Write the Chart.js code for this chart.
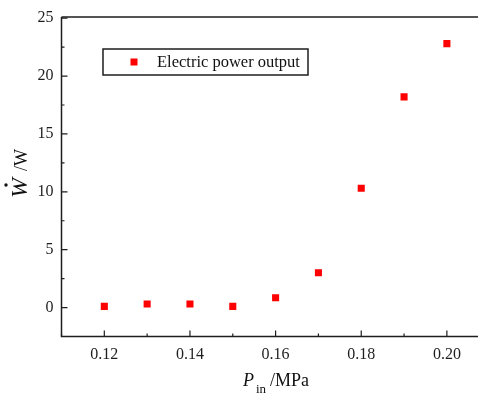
<!doctype html>
<html lang="en">
<head>
    <title>Electric power output</title>
    <meta charset="utf-8">
    <script src="https://cdn.jsdelivr.net/npm/chart.js@4.4.0/dist/chart.umd.min.js"></script>
    <style>
        html, body { margin: 0; padding: 0; background: #fff; }
        #wrap { width: 478px; height: 394px; position: relative; }
    </style>
</head>
<body>
<div id="wrap">
    <canvas id="powerChart"></canvas>
</div>
<script>
    // data
    const pressures = [0.12, 0.13, 0.14, 0.15, 0.16, 0.17, 0.18, 0.19, 0.20];
    const powerOutput = [0.1, 0.3, 0.3, 0.1, 0.85, 3.0, 10.3, 18.2, 22.8];
    const xTickValues = [0.12, 0.14, 0.16, 0.18, 0.20];
    const xTickLabels = ['0.12', '0.14', '0.16', '0.18', '0.20'];
    const xMinorValues = [0.11, 0.13, 0.15, 0.17, 0.19];
    const yTickValues = [0, 5, 10, 15, 20, 25];
    const yTickLabels = ['0', '5', '10', '15', '20', '25'];
    const yMinorValues = [-2.5, 2.5, 7.5, 12.5, 17.5, 22.5];
    const seriesLabel = 'Electric power output';

    const SERIF = '"Liberation Serif", "DejaVu Serif", serif';
    const INK = '#1e1e1e';

    // inward ticks, axis frame, titles and the boxed legend
    const framePlugin = {
        id: 'frame',
        afterDraw(chart) {
            const ctx = chart.ctx;
            const a = chart.chartArea;
            const xs = chart.scales.x, ys = chart.scales.y;
            ctx.save();
            ctx.strokeStyle = INK;
            ctx.lineWidth = 1.5;
            ctx.beginPath();
            ctx.moveTo(a.left, a.top); ctx.lineTo(478, a.top);
            ctx.moveTo(a.left, a.top); ctx.lineTo(a.left, a.bottom);
            ctx.lineTo(478, a.bottom);
            ctx.stroke();

            ctx.lineWidth = 1.2;
            ctx.beginPath();
            xTickValues.forEach(v => { let p = xs.getPixelForValue(v); ctx.moveTo(p, a.bottom); ctx.lineTo(p, a.bottom - 6); });
            xMinorValues.forEach(v => { let p = xs.getPixelForValue(v); ctx.moveTo(p, a.bottom); ctx.lineTo(p, a.bottom - 3); });
            yTickValues.forEach(v => { let p = ys.getPixelForValue(v); ctx.moveTo(a.left, p); ctx.lineTo(a.left + 6, p); });
            yMinorValues.forEach(v => { let p = ys.getPixelForValue(v); ctx.moveTo(a.left, p); ctx.lineTo(a.left + 3, p); });
            ctx.stroke();

            // legend box
            ctx.lineWidth = 1.5;
            ctx.strokeRect(103, 49, 205, 26);
            ctx.fillStyle = '#ff0000';
            ctx.fillRect(130.5, 58.5, 7, 7);
            ctx.fillStyle = '#111';
            ctx.font = '16.5px ' + SERIF;
            ctx.textBaseline = 'middle';
            ctx.textAlign = 'left';
            ctx.fillText(seriesLabel, 157, 62.5);

            // x title: P_in/MPa
            ctx.textBaseline = 'alphabetic';
            ctx.font = 'italic 18px ' + SERIF;
            ctx.fillText('P', 243, 386);
            ctx.font = '13px ' + SERIF;
            ctx.fillText('in', 256, 393);
            ctx.font = '18px ' + SERIF;
            ctx.fillText('/MPa', 270, 386);

            // y title: W-dot /W, rotated
            ctx.translate(27, 170);
            ctx.rotate(-Math.PI / 2);
            ctx.font = 'italic 24px ' + SERIF;
            ctx.textAlign = 'left';
            ctx.fillText('W', -28, 0);
            ctx.beginPath();
            ctx.arc(-15, -21, 1.7, 0, Math.PI * 2);
            ctx.fill();
            ctx.font = '18px ' + SERIF;
            ctx.fillText('/W', -1, 0);
            ctx.restore();
        }
    };

    const ctx = document.getElementById('powerChart').getContext('2d');
    const chart = new Chart(ctx, {
        type: 'scatter',
        data: {
            datasets: [{
                label: seriesLabel,
                data: pressures.map((p, i) => ({x: p, y: powerOutput[i]})),
                pointStyle: 'rect',
                pointRadius: 5,
                pointHoverRadius: 5,
                pointBorderWidth: 0,
                backgroundColor: '#ff0000',
                borderColor: '#ff0000'
            }]
        },
        options: {
            responsive: true,
            maintainAspectRatio: false,
            animation: false,
            layout: { padding: { top: 17, right: 0, left: 0, bottom: 0 } },
            plugins: { legend: { display: false }, tooltip: { enabled: false } },
            scales: {
                x: {
                    type: 'linear',
                    min: 0.11,
                    max: 0.2061,
                    afterBuildTicks: s => { s.ticks = xTickValues.map(v => ({value: v})); },
                    afterFit: s => { s.height = 394 - 336.5; s.paddingLeft = 0; s.paddingRight = 0; },
                    ticks: {
                        padding: 9,
                        color: INK,
                        font: { family: SERIF, size: 16 },
                        callback: (v) => xTickLabels[xTickValues.findIndex(t => Math.abs(t - v) < 1e-9)]
                    },
                    grid: { display: false, drawTicks: false },
                    border: { display: false }
                },
                y: {
                    min: -2.5,
                    max: 25.1,
                    afterBuildTicks: s => { s.ticks = yTickValues.map(v => ({value: v})); },
                    afterFit: s => { s.width = 61.5; s.paddingTop = 0; s.paddingBottom = 0; },
                    ticks: {
                        padding: 8,
                        color: INK,
                        font: { family: SERIF, size: 16 },
                        callback: (v) => yTickLabels[yTickValues.indexOf(v)]
                    },
                    grid: { display: false, drawTicks: false },
                    border: { display: false }
                }
            }
        },
        plugins: [framePlugin]
    });
</script>
</body>
</html>
